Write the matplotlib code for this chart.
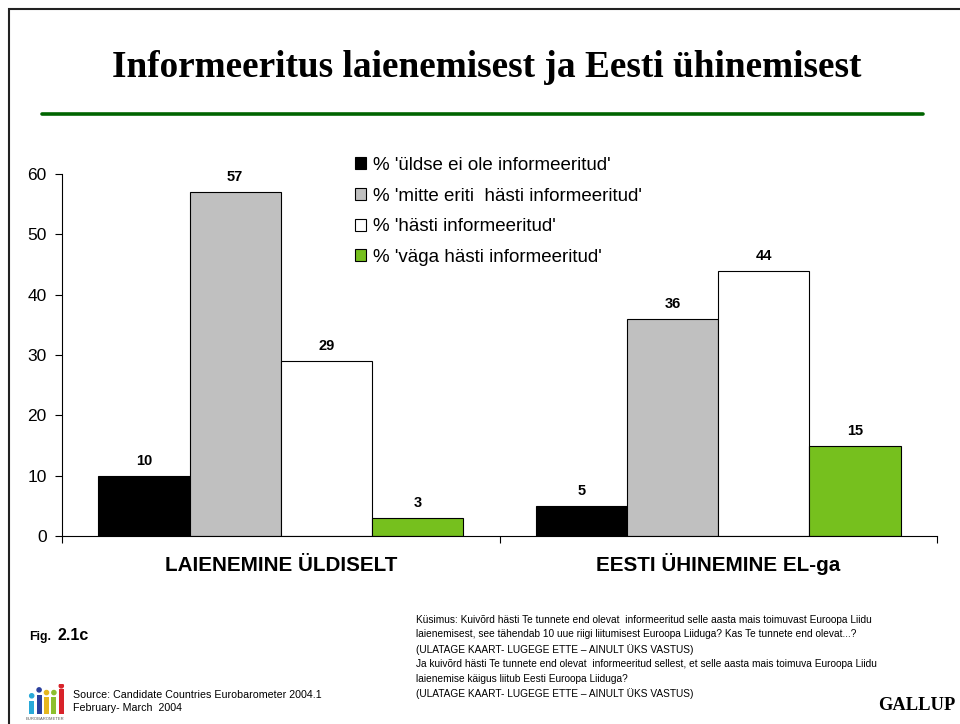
import numpy as np
import matplotlib
matplotlib.use('Agg')
import matplotlib.pyplot as plt
from matplotlib.lines import Line2D

categories = ['LAIENEMINE ÜLDISELT', 'EESTI ÜHINEMINE EL-ga']
series_names = ["% 'üldse ei ole informeeritud'",
                "% 'mitte eriti  hästi informeeritud'",
                "% 'hästi informeeritud'",
                "% 'väga hästi informeeritud'"]
not_at_all = [10, 5]
not_very = [57, 36]
well = [29, 44]
very_well = [3, 15]
colors = ['#000000', '#c0c0c0', '#ffffff', '#76c01e']

title = 'Informeeritus laienemisest ja Eesti ühinemisest'
question = ("Küsimus: Kuivõrd hästi Te tunnete end olevat  informeeritud selle aasta mais toimuvast Euroopa Liidu\n"
            "laienemisest, see tähendab 10 uue riigi liitumisest Euroopa Liiduga? Kas Te tunnete end olevat...?\n"
            "(ULATAGE KAART- LUGEGE ETTE – AINULT ÜKS VASTUS)\n"
            "Ja kuivõrd hästi Te tunnete end olevat  informeeritud sellest, et selle aasta mais toimuva Euroopa Liidu\n"
            "laienemise käigus liitub Eesti Euroopa Liiduga?\n"
            "(ULATAGE KAART- LUGEGE ETTE – AINULT ÜKS VASTUS)")
source = 'Source: Candidate Countries Eurobarometer 2004.1\nFebruary- March  2004'

# eurobarometer logo columns (relative heights)
logo_heights = [0.5, 0.72, 0.62, 0.62, 0.92]
logo_heads = [0.68, 0.9, 0.8, 0.8, 1.05]
logo_colors = ['#29a9d8', '#2a3f9d', '#e6b71e', '#8dbf2e', '#d8232a']

W, H = 960, 724
plt.rcParams['font.family'] = ['Liberation Sans', 'DejaVu Sans']
fig = plt.figure(figsize=(9.6, 7.24), dpi=100)


def fx(px):
    return px / W


def fy(py):
    return 1 - py / H


# only top and left edges of the slide frame
fig.add_artist(Line2D([fx(9), fx(9), 1], [0, fy(9), fy(9)], color='#222222', linewidth=1.5,
                      solid_joinstyle='miter', transform=fig.transFigure))

fig.text(fx(487), fy(77), title, family='Liberation Serif', fontweight='bold', fontsize=26.8,
         ha='center', va='baseline')
fig.add_artist(Line2D([fx(42), fx(923)], [fy(114), fy(114)], color='#006400', linewidth=2.6,
                      solid_capstyle='round', transform=fig.transFigure))

ax = fig.add_axes([fx(62), fy(536), fx(875), (536 - 174) / H])
x = np.arange(len(categories))
bw = 91.2 / 437.5
for i, vals in enumerate([not_at_all, not_very, well, very_well]):
    ax.bar(x + (i - 1.5) * bw, vals, bw, color=colors[i], edgecolor='black', linewidth=0.8,
           label=series_names[i])
    for xb, v in zip(x + (i - 1.5) * bw, vals):
        ax.annotate(str(v), (xb, v), xytext=(0, 5.5), textcoords='offset points', ha='center', va='bottom',
                    fontsize=10.5, fontweight='bold')

ax.set_xlim(-0.5, 1.5)
ax.set_ylim(0, 60)
ax.set_yticks(range(0, 61, 10))
ax.set_xticks([-0.5, 0.5, 1.5])
ax.set_xticklabels([])
ax.tick_params(axis='y', labelsize=12.5, length=5, pad=6, direction='out', width=0.8)
ax.tick_params(axis='x', length=5, width=0.8, direction='out')
ax.spines['top'].set_visible(False)
ax.spines['right'].set_visible(False)
for xc, name in zip(x, categories):
    ax.annotate(name, (xc, 0), xytext=(0, -25), textcoords='offset points', ha='center', va='baseline',
                fontsize=14.9, fontweight='bold', annotation_clip=False)

ax.legend(loc='upper left', bbox_to_anchor=(fx(355), fy(157)), bbox_transform=fig.transFigure, frameon=False,
          fontsize=13.5, handlelength=0.6, handleheight=0.6, handletextpad=0.37, labelspacing=0.725,
          borderpad=0, borderaxespad=0)

fig.text(fx(29), fy(637), 'Fig.', fontsize=8.8, fontweight='bold', va='center')
fig.text(fx(57), fy(636), '2.1c', fontsize=11.5, fontweight='bold', va='center')
fig.text(fx(416), fy(657), question, fontsize=7.3, va='center', linespacing=1.55)
fig.text(fx(73), fy(701.5), source, fontsize=7.7, va='center', linespacing=1.4)
fig.text(fx(878), fy(706), 'GALLUP', family='Liberation Serif', fontweight='bold', fontsize=13.3, va='center')

# logo
logo = fig.add_axes([fx(28), fy(714), fx(37), 30 / H])
logo.bar(range(len(logo_heights)), logo_heights, 0.7, color=logo_colors)
logo.scatter(range(len(logo_heads)), logo_heads, s=9, c=logo_colors)
logo.set_ylim(0, 1.12)
logo.set_xlim(-0.5, 4.5)
logo.axis('off')
fig.text(fx(45), fy(719.5), 'EUROBAROMETER', fontsize=3, color='#555555', ha='center', va='center')

fig.savefig('out.png', dpi=100)
